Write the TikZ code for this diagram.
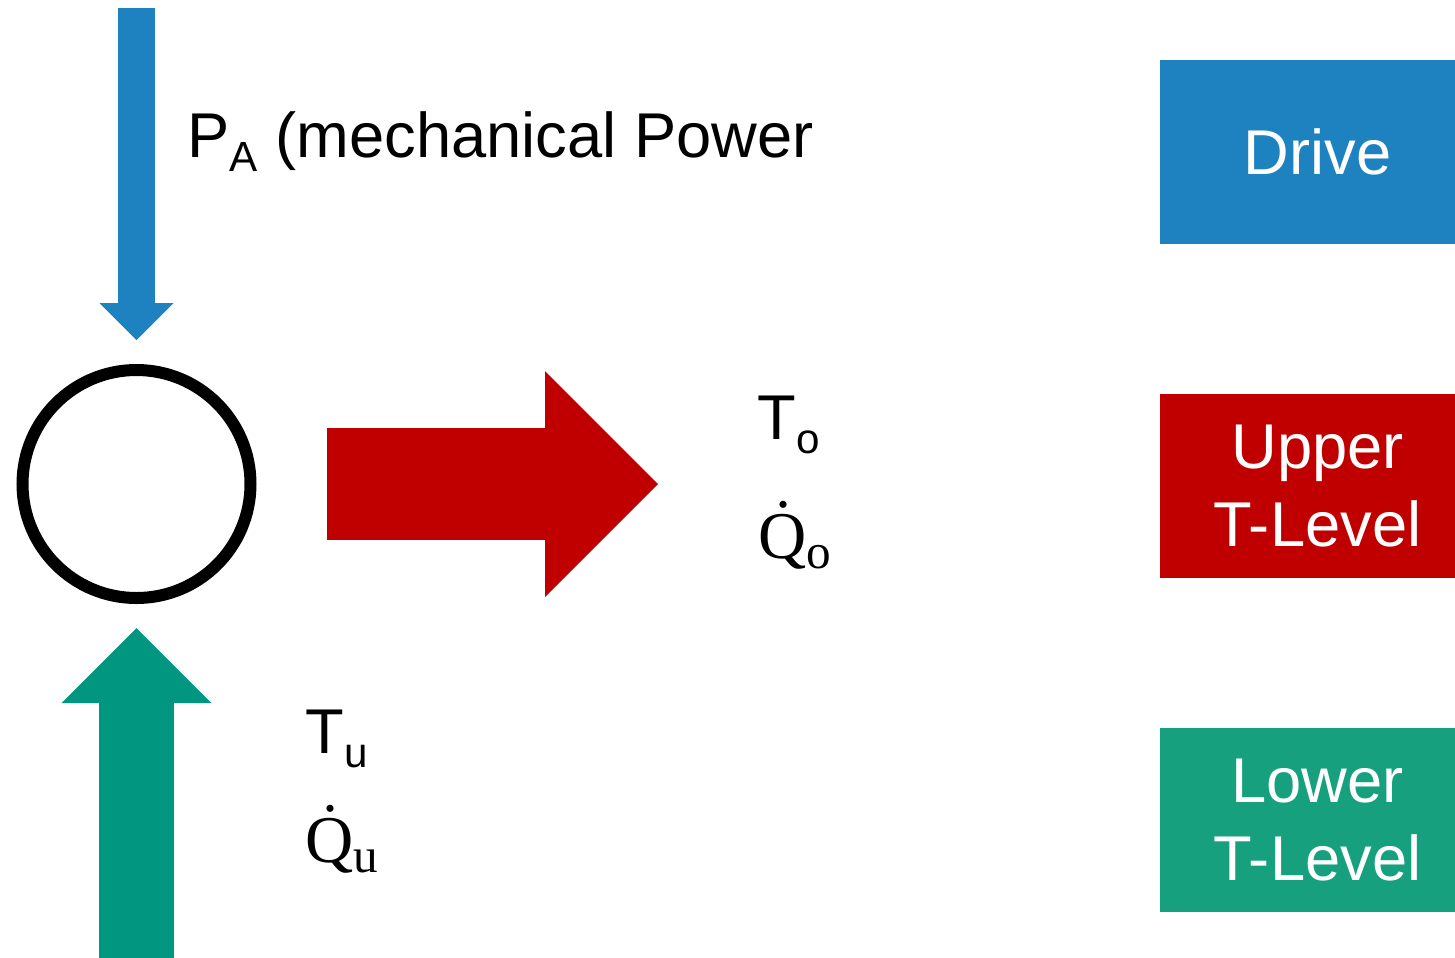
\documentclass[tikz,border=0pt]{standalone}
\usepackage{fontspec}
\setmainfont{Liberation Sans}
\newfontfamily\serifq{Liberation Serif}
\usetikzlibrary{arrows.meta,positioning}
\definecolor{antriebblau}{HTML}{1F82C0}
\definecolor{oberrot}{HTML}{C00000}
\definecolor{untergruen}{HTML}{009680}
\definecolor{kastengruen}{HTML}{17A07E}
\newcommand{\tiefidx}[1]{\raisebox{-0.14cm}{\fontsize{12}{12}\selectfont #1}}
\newcommand{\qpunkt}[1]{{\serifq\fontsize{19}{19}\selectfont\.{Q}\raisebox{-0.1cm}{\fontsize{14}{14}\selectfont #1}}}

\begin{document}
\begin{tikzpicture}[kasten/.style={minimum width=3.15cm,minimum height=1.84cm,inner sep=0pt,align=center,text=white,font=\fontsize{18}{22}\selectfont},groesse/.style={anchor=base west,inner sep=0pt,font=\fontsize{18}{22}\selectfont},pfeilblau/.style={draw=antriebblau,line width=0.37cm,-{Triangle[width=0.74cm,length=0.37cm,line width=0pt]}},pfeilrot/.style={draw=oberrot,line width=1.12cm,-{Triangle[width=2.26cm,length=1.13cm,line width=0pt]}},pfeilgruen/.style={draw=untergruen,line width=0.75cm,-{Triangle[width=1.50cm,length=0.75cm,line width=0pt]}}]
\useasboundingbox (0,0) rectangle (14.55,9.57);
\node[draw,circle,line width=0.12cm,minimum size=2.28cm,inner sep=0pt] (kreis) at (1.365,4.73) {};
\coordinate (antrieb) at (1.365,9.49);
\coordinate (boden) at (1.365,-0.1);
\coordinate (abwaerme) at (6.58,4.73);
\draw[pfeilblau,shorten >=0.24cm] (antrieb)--(kreis.north);
\draw[pfeilgruen,shorten >=0.24cm] (boden)--(kreis.south);
\draw[pfeilrot,shorten <=0.70cm] (kreis.east)--(abwaerme);
\node[groesse] (leistung) at (1.87,8.00) {P\tiefidx{A} (mechanical Power};
\node[groesse] (to) at (7.57,5.18) {T\tiefidx{o}};
\node[groesse] (qo) at (7.58,3.99) {\qpunkt{o}};
\node[groesse] (tu) at (3.05,2.04) {T\tiefidx{u}};
\node[groesse] (qu) at (3.05,0.95) {\qpunkt{u}};
\node[kasten,fill=antriebblau] (drive) at (13.175,8.05) {Drive};
\node[kasten,fill=oberrot] (upper) at (13.175,4.71) {Upper\\T-Level};
\node[kasten,fill=kastengruen] (lower) at (13.175,1.37) {Lower\\T-Level};
\end{tikzpicture}
\end{document}
